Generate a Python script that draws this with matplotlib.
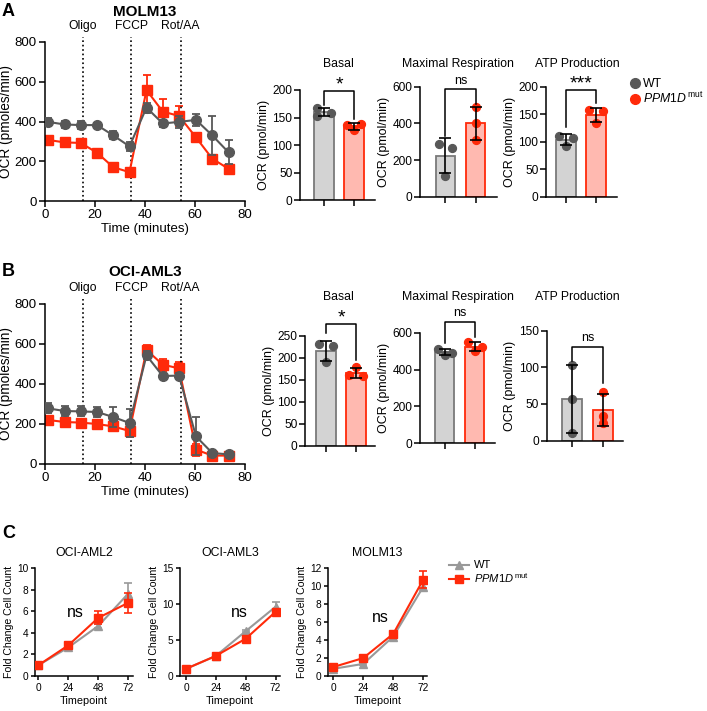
import matplotlib
matplotlib.use('Agg')
import matplotlib.pyplot as plt
import numpy as np
from matplotlib.lines import Line2D

plt.rcParams['font.family'] = ['Liberation Sans', 'DejaVu Sans']
plt.rcParams['mathtext.fontset'] = 'custom'
plt.rcParams['mathtext.rm'] = 'Liberation Sans'
plt.rcParams['mathtext.it'] = 'Liberation Sans:italic'

### Seahorse OCR traces (mean, error)
time_min = [1.3, 7.8, 14.3, 20.8, 27.3, 33.8, 40.6, 47.1, 53.6, 60.4, 66.9, 73.4]
injections = [15, 34.5, 54.3]
injection_names = ['Oligo', 'FCCP', 'Rot/AA']

molm_wt = [398, 385, 382, 382, 330, 275, 470, 390, 398, 408, 330, 245]
molm_wt_err = [20, 20, 22, 12, 20, 22, 25, 20, 30, 30, 100, 60]
molm_mut = [307, 295, 292, 243, 170, 145, 558, 450, 428, 320, 213, 162]
molm_mut_err = [15, 10, 10, 20, 20, 20, 75, 65, 50, 10, 15, 15]

aml3_wt = [278, 265, 263, 260, 235, 205, 543, 440, 442, 138, 55, 48]
aml3_wt_err = [25, 25, 25, 25, 50, 70, 20, 10, 15, 95, 10, 5]
aml3_mut = [220, 210, 207, 200, 188, 165, 570, 497, 478, 72, 42, 42]
aml3_mut_err = [15, 10, 10, 10, 20, 30, 25, 30, 30, 30, 5, 5]

### replicate values for bar charts
molm_basal_wt = [168, 153, 159]
molm_basal_mut = [136, 139, 127]
molm_max_wt = [290, 265, 115]
molm_max_mut = [490, 400, 310]
molm_atp_wt = [111, 107, 92]
molm_atp_mut = [157, 156, 134]

aml3_basal_wt = [232, 227, 190]
aml3_basal_mut = [180, 161, 159]
aml3_max_wt = [510, 492, 480]
aml3_max_mut = [550, 525, 500]
aml3_atp_wt = [103, 57, 10]
aml3_atp_mut = [66, 34, 24]

### proliferation (fold change)
hours = [0, 24, 48, 72]
grow_aml2_wt = [1.0, 2.65, 4.65, 7.65]
grow_aml2_wt_err = [0.05, 0.1, 0.15, 0.95]
grow_aml2_mut = [1.0, 2.85, 5.4, 6.8]
grow_aml2_mut_err = [0.05, 0.1, 0.6, 0.95]
grow_aml3_wt = [1.0, 2.8, 6.25, 9.65]
grow_aml3_wt_err = [0.05, 0.1, 0.15, 0.6]
grow_aml3_mut = [1.0, 2.8, 5.2, 8.95]
grow_aml3_mut_err = [0.05, 0.1, 0.2, 0.3]
grow_molm_wt = [0.8, 1.35, 4.4, 9.95]
grow_molm_wt_err = [0.05, 0.1, 0.15, 0.3]
grow_molm_mut = [1.0, 2.0, 4.7, 10.75]
grow_molm_mut_err = [0.05, 0.1, 0.15, 0.95]

W, H = 707, 711
GRAY = '#585858'
RED = '#ff2a0a'
LGRAY = '#999999'
BAR_GRAY = '#d3d3d3'
BAR_RED = '#ffb9b0'
MUT_LABEL = r'$\mathit{PPM1D}^{\,\mathrm{mut}}$'

fig = plt.figure(figsize=(W / 100, H / 100), dpi=100)


def px_axes(l, t, r, b):
    ax = fig.add_axes([l / W, 1 - b / H, (r - l) / W, (b - t) / H])
    ax.spines['top'].set_visible(False)
    ax.spines['right'].set_visible(False)
    for s in ['left', 'bottom']:
        ax.spines[s].set_linewidth(1.1)
    ax.tick_params(width=1.1, length=4, direction='out')
    ax.patch.set_alpha(0)
    return ax


def fig_text(x, y, s, **kw):
    fig.text(x / W, 1 - y / H, s, **kw)


def ocr_trace(ax, wt, wt_err, mut, mut_err):
    ax.errorbar(time_min, wt, yerr=wt_err, color=GRAY, marker='o', ms=7,
                lw=1.5, capsize=3, elinewidth=1.3, capthick=1.3, zorder=3)
    ax.errorbar(time_min, mut, yerr=mut_err, color=RED, marker='s', ms=6.5,
                lw=1.5, capsize=3, elinewidth=1.3, capthick=1.3, zorder=2)
    for x, name in zip(injections, injection_names):
        ax.plot([x, x], [0, 825], ls=':', color='black', lw=1.2, clip_on=False)
        ax.text(x, 880, name, ha='center', va='center', fontsize=8.7)
    ax.set_xlim(0, 80)
    ax.set_ylim(0, 800)
    ax.set_xticks([0, 20, 40, 60, 80])
    ax.set_yticks([0, 200, 400, 600, 800])
    ax.tick_params(labelsize=9.5, pad=2)
    ax.set_xlabel('Time (minutes)', fontsize=9.5, labelpad=1)
    ax.set_ylabel('OCR (pmoles/min)', fontsize=9.8, labelpad=1)


def bar_pair(ax, wt, mut, xlim, ylim, yticks, offs_wt, offs_mut):
    for i, (vals, fc, ec, dc, offs) in enumerate([
            (wt, BAR_GRAY, '#7a7a7a', GRAY, offs_wt),
            (mut, BAR_RED, RED, RED, offs_mut)]):
        m = np.mean(vals)
        sd = np.std(vals, ddof=1)
        ax.bar(i, m, width=0.64, color=fc, edgecolor=ec, linewidth=1.3, zorder=1)
        ax.scatter(np.array(offs) + i, vals, s=32, color=dc, zorder=2, clip_on=False)
        ax.errorbar(i, m, yerr=sd, color='black', capsize=4, elinewidth=1.2,
                    capthick=1.2, zorder=3)
    ax.set_xlim(*xlim)
    ax.set_ylim(*ylim)
    ax.set_xticks([0, 1])
    ax.set_xticklabels([])
    ax.set_yticks(yticks)
    ax.tick_params(labelsize=8.6, pad=1.5)
    ax.set_ylabel('OCR (pmol/min)', fontsize=9, labelpad=2)


def bracket(ax, y, h0, h1, label, size):
    ax.plot([0, 0, 1, 1], [h0, y, y, h1], color='black', lw=1.1, clip_on=False)
    if '*' in label:
        ax.annotate(label, (0.5, y), xytext=(0, -2), textcoords='offset points',
                    ha='center', va='bottom', fontsize=size, annotation_clip=False)
    else:
        ax.annotate(label, (0.5, y), xytext=(0, 2), textcoords='offset points',
                    ha='center', va='bottom', fontsize=size, annotation_clip=False)


# ---------------- Panel A ----------------
fig_text(2, 12, 'A', fontsize=13, fontweight='bold', va='center')
fig_text(145, 12, 'MOLM13', fontsize=11, fontweight='bold', ha='center', va='center')
ax = px_axes(45, 42, 245, 201)
ocr_trace(ax, molm_wt, molm_wt_err, molm_mut, molm_mut_err)

ax = px_axes(300, 90, 375, 200)
bar_pair(ax, molm_basal_wt, molm_basal_mut, (-0.8, 1.7), (0, 200), [0, 50, 100, 150, 200],
         [-0.22, -0.22, 0.22], [-0.22, 0.22, 0])
bracket(ax, 199, 173, 147, '*', 14)
fig_text(338, 64, 'Basal', fontsize=8.8, ha='center', va='center')

ax = px_axes(420, 86.7, 497, 196.7)
bar_pair(ax, molm_max_wt, molm_max_mut, (-0.83, 1.7), (0, 600), [0, 200, 400, 600],
         [-0.22, 0.22, 0], [0, 0, 0])
bracket(ax, 585, 330, 505, 'ns', 9)
fig_text(458, 64, 'Maximal Respiration', fontsize=8.8, ha='center', va='center')

ax = px_axes(546, 86.7, 617, 196.7)
bar_pair(ax, molm_atp_wt, molm_atp_mut, (-0.67, 1.7), (0, 200), [0, 50, 100, 150, 200],
         [-0.22, 0.22, 0], [-0.22, 0.22, 0])
bracket(ax, 194, 127, 170, '***', 14)
fig_text(577, 64, 'ATP Production', fontsize=8.8, ha='center', va='center')

handles = [Line2D([], [], ls='none', marker='o', ms=7, color=GRAY),
           Line2D([], [], ls='none', marker='o', ms=7, color=RED)]
fig.legend(handles, ['WT', MUT_LABEL], loc='upper left',
           bbox_to_anchor=(623 / W, 1 - 73 / H), frameon=False, fontsize=8.8,
           handletextpad=0.1, handlelength=1.1, labelspacing=0.1, borderaxespad=0)

# ---------------- Panel B ----------------
fig_text(2, 272, 'B', fontsize=13, fontweight='bold', va='center')
fig_text(145, 272, 'OCI-AML3', fontsize=11, fontweight='bold', ha='center', va='center')
ax = px_axes(45, 304, 245, 464)
ocr_trace(ax, aml3_wt, aml3_wt_err, aml3_mut, aml3_mut_err)

ax = px_axes(305, 336, 375, 446)
bar_pair(ax, aml3_basal_wt, aml3_basal_mut, (-0.7, 1.63), (0, 250), [0, 50, 100, 150, 200, 250],
         [-0.22, 0.22, 0], [0, -0.22, 0.22])
bracket(ax, 277, 257, 195, '*', 14)
fig_text(338, 297, 'Basal', fontsize=8.8, ha='center', va='center')

ax = px_axes(420, 332.7, 495, 443.3)
bar_pair(ax, aml3_max_wt, aml3_max_mut, (-0.83, 1.67), (0, 600), [0, 200, 400, 600],
         [-0.22, 0.22, 0], [-0.22, 0.22, 0])
bracket(ax, 658, 545, 575, 'ns', 9)
fig_text(458, 297, 'Maximal Respiration', fontsize=8.8, ha='center', va='center')

ax = px_axes(546.7, 330.7, 622.7, 440.6)
bar_pair(ax, aml3_atp_wt, aml3_atp_mut, (-0.82, 1.63), (0, 150), [0, 50, 100, 150],
         [0, 0, 0], [0, 0, 0])
bracket(ax, 128, 108, 78, 'ns', 9)
fig_text(577, 297, 'ATP Production', fontsize=8.8, ha='center', va='center')

# ---------------- Panel C ----------------
fig_text(2, 533, 'C', fontsize=13, fontweight='bold', va='center')


def growth(ax, wt, wt_err, mut, mut_err, ylim, yticks, title, xlim, ns_xy):
    ax.errorbar(hours, wt, yerr=wt_err, color=LGRAY, marker='^', ms=6, lw=1.5,
                capsize=3, elinewidth=1.2, capthick=1.2, zorder=2)
    ax.errorbar(hours, mut, yerr=mut_err, color=RED, marker='s', ms=5.5, lw=1.5,
                capsize=3, elinewidth=1.2, capthick=1.2, zorder=3)
    ax.set_xlim(*xlim)
    ax.set_ylim(*ylim)
    ax.set_xticks(hours)
    ax.set_yticks(yticks)
    ax.tick_params(labelsize=7.3, length=3, pad=2)
    ax.set_xlabel('Timepoint', fontsize=7.8, labelpad=2)
    ax.set_ylabel('Fold Change Cell Count', fontsize=7.6, labelpad=2)
    ax.set_title(title, fontsize=8.8, pad=9)
    ax.text(ns_xy[0], ns_xy[1], 'ns', fontsize=11.5, ha='center', va='center')


ax = px_axes(35, 568.3, 133, 676)
growth(ax, grow_aml2_wt, grow_aml2_wt_err, grow_aml2_mut, grow_aml2_mut_err,
       (0, 10), [0, 2, 4, 6, 8, 10], 'OCI-AML2', (-2.7, 75.8), (30, 5.85))
ax = px_axes(180, 568.3, 280, 676)
growth(ax, grow_aml3_wt, grow_aml3_wt_err, grow_aml3_mut, grow_aml3_mut_err,
       (0, 15), [0, 5, 10, 15], 'OCI-AML3', (-4.8, 75.5), (42.5, 8.8))
ax = px_axes(328, 568.3, 427.3, 676)
growth(ax, grow_molm_wt, grow_molm_wt_err, grow_molm_mut, grow_molm_mut_err,
       (0, 12), [0, 2, 4, 6, 8, 10, 12], 'MOLM13', (-4.2, 75.2), (38, 6.5))

handles = [Line2D([], [], color=LGRAY, marker='^', ms=5.5, lw=1.5),
           Line2D([], [], color=RED, marker='s', ms=5.5, lw=1.5)]
fig.legend(handles, ['WT', MUT_LABEL], loc='upper left',
           bbox_to_anchor=(445 / W, 1 - 556 / H), frameon=False, fontsize=8,
           handletextpad=0.4, handlelength=1.8, labelspacing=0.1, borderaxespad=0)

fig.savefig('out.png', dpi=100)
